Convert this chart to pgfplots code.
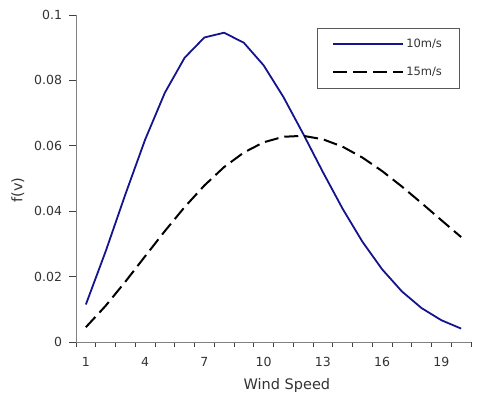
\documentclass[border=0pt]{standalone}
\usepackage{fontspec}
\setmainfont{DejaVu Sans}
\usepackage{pgfplots}
\pgfplotsset{compat=1.18}
\definecolor{navyline}{RGB}{20,20,140}
\begin{document}
\begin{tikzpicture}[x=1pt,y=1pt]
\path (0,0) rectangle (489,397);
\begin{axis}[
  at={(76pt,55pt)}, anchor=south west,
  scale only axis, width=395pt, height=327pt,
  xmin=0.5, xmax=20.5, ymin=0, ymax=0.1,
  axis x line*=bottom, axis y line*=left,
  axis line style={black!50, line width=0.8pt, -},
  xtick={1,4,...,19}, xticklabels={1,4,7,10,13,16,19},
  minor xtick={0.5,1.5,...,20.5},
  ytick={0,0.02,0.04,0.06,0.08,0.1}, yticklabels={0,0.02,0.04,0.06,0.08,0.1},
  tick align=outside,
  major tick length=7pt, minor tick length=5pt,
  tick style={black!75, line width=0.7pt},
  major x tick style={draw=none},
  /pgf/number format/assume math mode=true,
  ticklabel style={font=\fontsize{12.5}{14}\selectfont, text=black!80},
  xticklabel style={yshift=-4.5pt},
  yticklabel style={xshift=-3.5pt},
  xlabel={Wind Speed}, ylabel={f(v)},
  label style={font=\fontsize{14.5}{16}\selectfont, text=black!80},
  xlabel style={at={(axis description cs:0.534,-0.134)}, anchor=center},
  ylabel style={at={(axis description cs:-0.147,0.465)}, anchor=center},
  legend image code/.code={\draw[#1] (0pt,0pt) -- (70pt,0pt);},
  legend style={at={(axis description cs:0.610,0.960)}, anchor=north west,
    draw=black!65, line width=0.6pt, font=\fontsize{11.5}{13}\selectfont,
    inner xsep=15pt, inner ysep=9pt, row sep=14pt,
    cells={anchor=west}, text=black!80},
]
\addplot[navyline, line width=1.8pt, line join=round] coordinates {
(1,0.01147) (2,0.02769) (3,0.04516) (4,0.06189) (5,0.07624)
(6,0.08693) (7,0.09313) (8,0.09458) (9,0.09150) (10,0.08461)
(11,0.07495) (12,0.06369) (13,0.05197) (14,0.04075) (15,0.03069)
(16,0.02223) (17,0.01547) (18,0.01036) (19,0.00666) (20,0.00411)
};
\addplot[black, line width=2pt, dash pattern=on 14pt off 6pt] coordinates {
(1,0.00453) (2,0.01106) (3,0.01846) (4,0.02622) (5,0.03393)
(6,0.04126) (7,0.04787) (8,0.05351) (9,0.05795) (10,0.06107)
(11,0.06276) (12,0.06305) (13,0.06200) (14,0.05972) (15,0.05641)
(16,0.05227) (17,0.04755) (18,0.04246) (19,0.03725) (20,0.03209)
};
\legend{10m/s,15m/s}
\end{axis}
\end{tikzpicture}
\end{document}
